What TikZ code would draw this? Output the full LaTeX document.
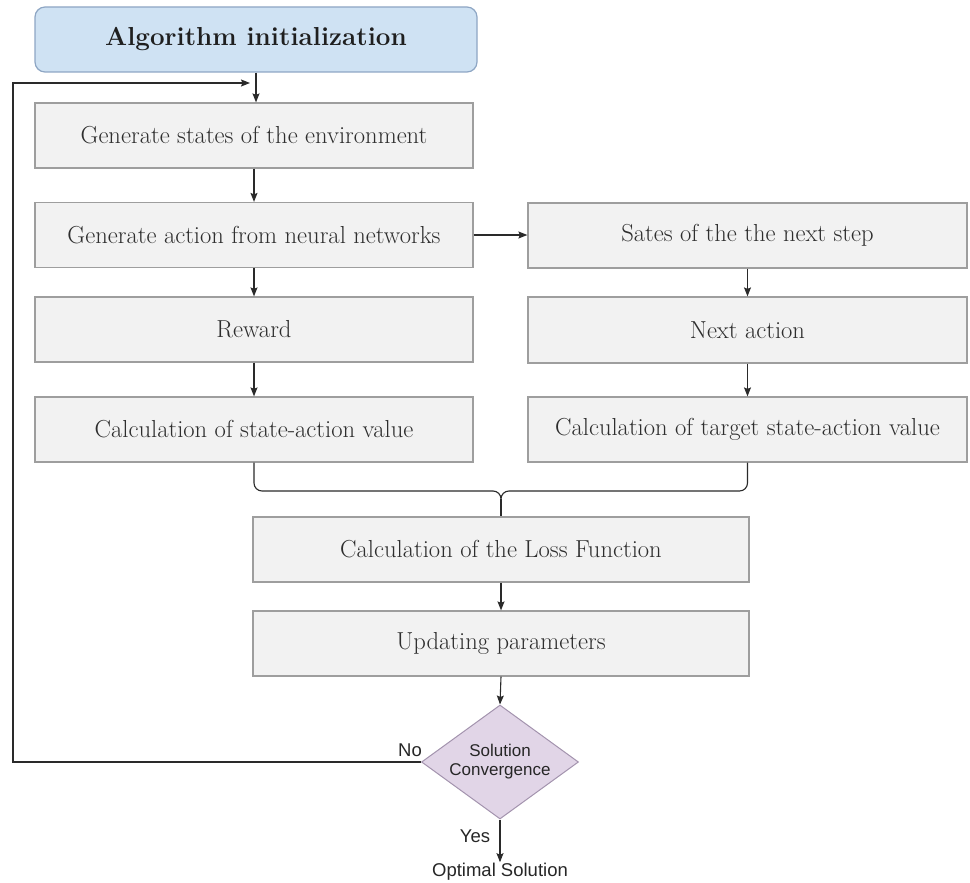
\documentclass[tikz,border=0pt]{standalone}
\usepackage{fontspec}
\newfontfamily\labelfont{Liberation Sans}
\usetikzlibrary{shapes.geometric,arrows.meta,calc}

\definecolor{boxfill}{HTML}{F2F2F2}
\definecolor{boxline}{HTML}{9E9E9E}
\definecolor{initfill}{HTML}{CFE2F3}
\definecolor{initline}{HTML}{8EA6C4}
\definecolor{decfill}{HTML}{E1D5E7}
\definecolor{decline}{HTML}{A393AE}
\definecolor{textgray}{HTML}{2E2E2E}
\definecolor{wire}{HTML}{2A2A2A}

\tikzset{
  stepbox/.style={rectangle, draw=boxline, fill=boxfill, line width=1.2pt,
    inner sep=0pt, text=textgray, font=\fontsize{24.6}{29}\selectfont},
  leftbox/.style={stepbox, minimum width=438, minimum height=65},
  rightbox/.style={stepbox, minimum width=439, minimum height=65},
  midbox/.style={stepbox, minimum width=496, minimum height=65},
  initbox/.style={rectangle, rounded corners=10pt, draw=initline, fill=initfill,
    line width=1.2pt, inner sep=0pt, minimum width=442, minimum height=65,
    font=\fontsize{26}{30}\selectfont\bfseries, text=black!88},
  decbox/.style={diamond, draw=decline, fill=decfill, line width=1pt,
    inner sep=0pt, minimum width=157, minimum height=114},
  sanslabel/.style={font=\labelfont\fontsize{18.5}{20}\selectfont, text=black!85, inner sep=1pt},
  convlabel/.style={font=\labelfont\fontsize{17}{19}\selectfont, text=black!85, inner sep=1pt},
  link/.style={draw=wire, line width=1.1pt},
  arr/.style={link, -{Stealth[length=9pt,width=7pt,inset=1.5pt]}},
}

\begin{document}
\begin{tikzpicture}[x=1pt,y=-1pt]
\useasboundingbox (0,0) rectangle (970,883);

% start box
\node[initbox] (init) at (256,39.5) {Algorithm initialization};

% left column
\node[leftbox] (gen)  at (254,135.5) {Generate states of the environment};
\node[leftbox] (act)  at (254,235)   {Generate action from neural networks};
\node[leftbox] (rew)  at (254,329.5) {Reward};
\node[leftbox] (calc) at (254,429.5) {Calculation of state-action value};

% right column
\node[rightbox] (next)   at (747.5,235.5) {Sates of the the next step};
\node[rightbox, minimum height=66] (nact) at (747.5,330) {Next action};
\node[rightbox] (target) at (747.5,429.5) {Calculation of target state-action value};

% merged part
\node[midbox] (loss) at (501,549.5) {Calculation of the Loss Function};
\node[midbox] (upd)  at (501,643.5) {Updating parameters};

% decision
\node[decbox] (conv) at (500,762) {};
\node[convlabel, align=center] (convtext) at (conv) {Solution\\Convergence};
\node[sanslabel] (opt) at (500,872) {Optimal Solution};

% loop-back target on the first arrow
\coordinate (merge) at (254,83);

% arrows, main chain
\draw[arr] (init.south) -- (init.south |- gen.north);
\draw[arr] (gen) -- (act);
\draw[arr] (act) -- (rew);
\draw[arr] (rew) -- (calc);
\draw[arr] (act.east) -- (act.east -| next.west);
\draw[arr] (next) -- (nact);
\draw[arr] (nact) -- (target);

% brace joining both values into the loss
\coordinate (join) at (501,491);
\draw[link, rounded corners=8pt] (calc.south) -- (calc.south |- join) -- ($(join)+(-8,0)$);
\draw[link, rounded corners=8pt] (target.south) -- (target.south |- join) -- ($(join)+(8,0)$);
\draw[link] ($(join)+(-8,0)$) to[out=0,in=90] ($(join)+(0,8)$)
            to[out=90,in=180] ($(join)+(8,0)$);
\draw[link] ($(join)+(0,8)$) -- (loss.north);

\draw[arr] (loss) -- (upd);
\draw[arr] (upd.south) -- (conv.north);
\draw[arr] (conv.south) -- (opt.north);

% loop back when not converged
\draw[arr, shorten >=4pt] (conv.west) -- (13,762) |- (merge);

\node[sanslabel] (nolbl)  at (410,750) {No};
\node[sanslabel] (yeslbl) at (475,836) {Yes};
\end{tikzpicture}
\end{document}
